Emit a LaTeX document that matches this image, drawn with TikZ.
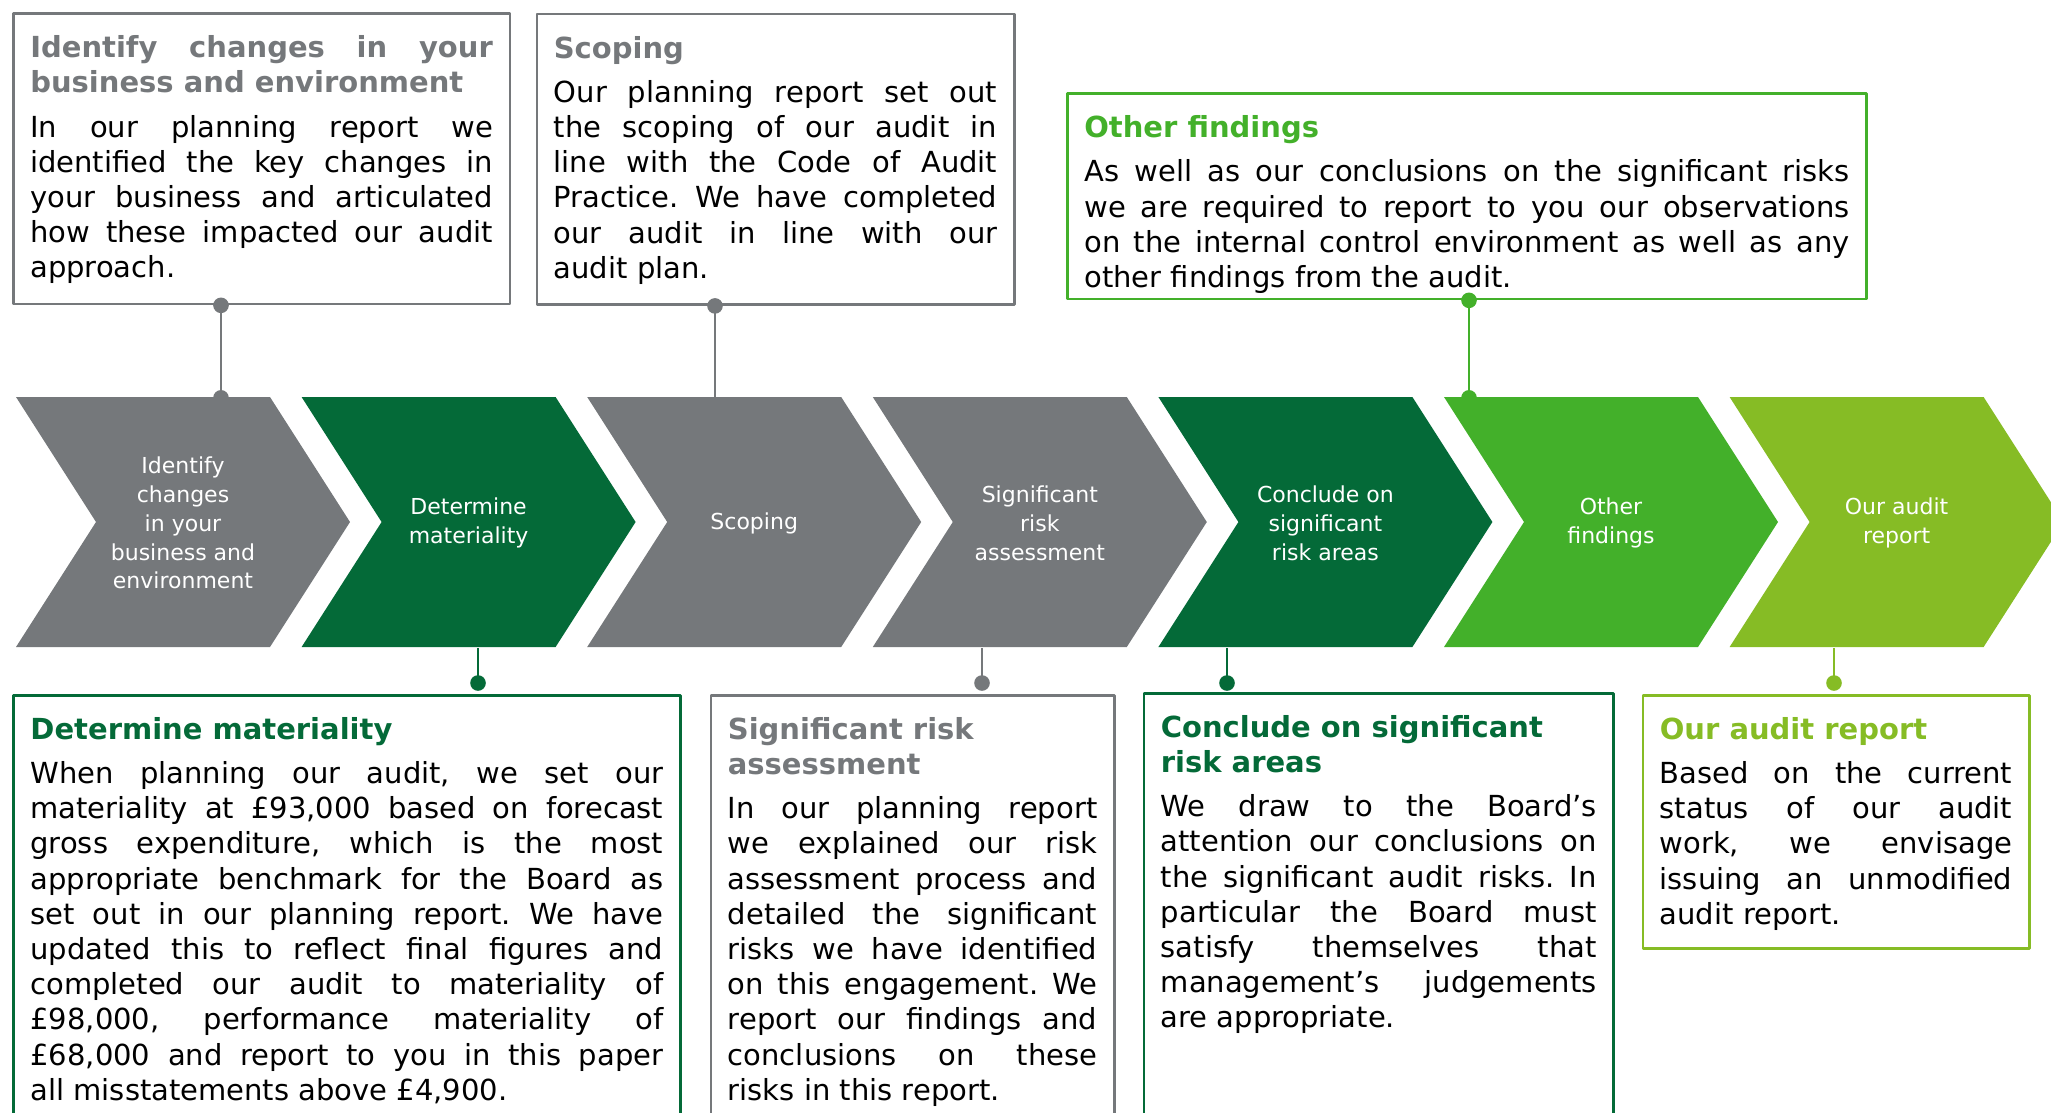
\documentclass[tikz,border=0pt]{standalone}
\usepackage{fontspec}
\setmainfont{DejaVu Sans}
\definecolor{dgray}{HTML}{75787B}
\definecolor{dgreen}{HTML}{046A38}
\definecolor{mgreen}{HTML}{43B02A}
\definecolor{lgreen}{HTML}{86BC25}
\tolerance=10000 \hbadness=10000 \vbadness=10000
\frenchspacing
\newcommand{\notehead}[2]{{\bfseries\color{#1}#2\par}\vspace{9pt}}
\begin{document}
\begin{tikzpicture}[x=1pt, y=-1pt, line join=round, font=\fontsize{29}{35.2}\selectfont]
	\tikzset{note/.style={draw=#1, line width=2.6pt, anchor=north west, inner xsep=17pt, inner ysep=22pt},
		chevtxt/.style={text=white, align=center, minimum width=334pt, minimum height=250pt, font=\fontsize{22}{28.8}\selectfont},
		link/.style={line width=2.6pt, draw=#1}}
	\path[use as bounding box, clip] (0,0) rectangle (2051,1112);
	% steps
	\foreach \i/\col/\txt [count=\n from 0] in {1/dgray/{Identify\\changes\\in your\\business and\\environment},
		2/dgreen/{Determine\\materiality}, 3/dgray/{Scoping}, 4/dgray/{Significant\\risk\\assessment},
		5/dgreen/{Conclude on\\significant\\risk areas}, 6/mgreen/{Other\\findings}, 7/lgreen/{Our audit\\report}}
	{
		\fill[\col, shift={(16+285.6*\n,397)}] (0,0) -- (254,0) -- (334,125) -- (254,250) -- (0,250) -- (80,125) -- cycle;
		\node[chevtxt] (c\i) at (183+285.6*\n,523) {\txt};
	}
	% notes above the steps
	\node[note=dgray] (t1) at (12,12.3) {\parbox[t][246.4pt][t]{462.5pt}{\notehead{dgray}{Identify changes in your\linebreak business and environment}In our planning report we\linebreak identified the key changes in\linebreak your business and articulated\linebreak how these impacted our audit\linebreak approach.}};
	\node[note=dgray] (t2) at (535.5,12.7) {\parbox[t][246.6pt][t]{443.5pt}{\notehead{dgray}{Scoping}Our planning report set out\linebreak the scoping of our audit in\linebreak line with the Code of Audit\linebreak Practice. We have completed\linebreak our audit in line with our\linebreak audit plan.}};
	\node[note=mgreen] (t3) at (1066,92.3) {\parbox[t][161.4pt][t]{765.3pt}{\notehead{mgreen}{Other findings}As well as our conclusions on the significant risks\linebreak we are required to report to you our observations\linebreak on the internal control environment as well as any\linebreak other findings from the audit.}};
	% notes below the steps
	\node[note=dgreen] (b1) at (12.2,694) {\parbox[t][396pt][t]{632.8pt}{\notehead{dgreen}{Determine materiality}When planning our audit, we set our\linebreak materiality at £93,000 based on forecast\linebreak gross expenditure, which is the most\linebreak appropriate benchmark for the Board as\linebreak set out in our planning report. We have\linebreak updated this to reflect final figures and\linebreak completed our audit to materiality of\linebreak £98,000, performance materiality of\linebreak £68,000 and report to you in this paper\linebreak all misstatements above £4,900.}};
	\node[note=dgray] (b2) at (709.6,694) {\parbox[t][396pt][t]{369.4pt}{\notehead{dgray}{Significant risk\\assessment}In our planning report\linebreak we explained our risk\linebreak assessment process and\linebreak detailed the significant\linebreak risks we have identified\linebreak on this engagement. We\linebreak report our findings and\linebreak conclusions on these\linebreak risks in this report.}};
	\node[note=dgreen] (b3) at (1142.5,692) {\parbox[t][396pt][t]{435.9pt}{\notehead{dgreen}{Conclude on significant\\risk areas}We draw to the Board’s\linebreak attention our conclusions on\linebreak the significant audit risks. In\linebreak particular the Board must\linebreak satisfy themselves that\linebreak management’s judgements\linebreak are appropriate.}};
	\node[note=lgreen] (b4) at (1641.5,694) {\parbox[t][209pt][t]{352.5pt}{\notehead{lgreen}{Our audit report}Based on the current\linebreak status of our audit\linebreak work, we envisage\linebreak issuing an unmodified\linebreak audit report.}};
	% connectors
	\path (221,0) coordinate (k1) (715,0) coordinate (k3) (1469,0) coordinate (k6)
	(478,683) coordinate (k2) (982,683) coordinate (k4) (1227,683) coordinate (k5) (1834,683) coordinate (k7);
	\foreach \a/\b/\k/\col in {t1/c1/k1/dgray, t3/c6/k6/mgreen}{
		\draw[link=\col] (\a.south -| \k) -- (\b.north -| \k);
		\fill[\col] (\a.south -| \k) circle (7.8) (\b.north -| \k) circle (7.8);
	}
	\draw[link=dgray] (t2.south -| k3) -- (c3.north -| k3);
	\fill[dgray] (t2.south -| k3) circle (7.8);
	\foreach \a/\k/\col in {c2/k2/dgreen, c4/k4/dgray, c5/k5/dgreen, c7/k7/lgreen}{
		\draw[link=\col] (\a.south -| \k) -- (\k);
		\fill[\col] (\k) circle (7.8);
	}
\end{tikzpicture}
\end{document}
